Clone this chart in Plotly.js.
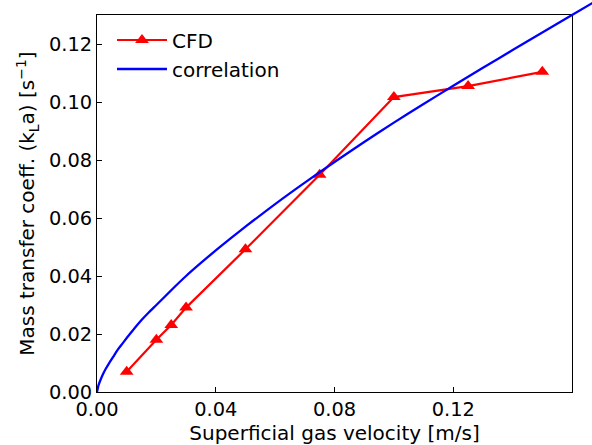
<!DOCTYPE html>
<html>
<head>
<meta charset="utf-8">
<script src="https://cdn.plot.ly/plotly-3.0.1.min.js"></script>
<style>html,body{margin:0;padding:0;background:#fff;}#chart{width:592px;height:445px;}</style>
</head>
<body>
<div id="chart"></div>
<script>
// CFD data
var cfdVelocity = [0.01, 0.02, 0.025, 0.03, 0.05, 0.075, 0.10, 0.125, 0.15];
var cfdKla = [0.0070, 0.0180, 0.0231, 0.0291, 0.0492, 0.0749, 0.1017, 0.1055, 0.1104];

// correlation curve
var corrVelocity = [0, 0.0005, 0.001, 0.002, 0.003, 0.004, 0.0055, 0.007, 0.0085, 0.01, 0.0125, 0.015, 0.0175, 0.02, 0.025, 0.03, 0.035, 0.04, 0.045, 0.05, 0.06, 0.07, 0.08, 0.09, 0.10, 0.11, 0.12, 0.13, 0.14, 0.15, 0.16, 0.17];
var corrKla = [0, 0.0023, 0.0037, 0.0061, 0.0081, 0.0098, 0.0122, 0.0146, 0.0166, 0.0186, 0.0218, 0.0248, 0.0275, 0.0300, 0.0351, 0.0400, 0.0445, 0.0488, 0.0530, 0.0570, 0.0648, 0.0722, 0.0793, 0.0862, 0.0929, 0.0993, 0.1056, 0.1118, 0.1179, 0.1240, 0.1300, 0.1360];

var xTicks = [0, 0.04, 0.08, 0.12, 0.16];
var yTicks = [0, 0.02, 0.04, 0.06, 0.08, 0.10, 0.12];
var xRange = [0, 0.16];
var yRange = [0, 0.13];

// geometry (pixels)
var W = 592, H = 445;
var L = 97, B = 53;
var plotRight = 572, plotTop = 15;
var areaW = W - L, areaH = H - B;
var xFrac = (plotRight - L) / areaW;
var yFrac = (H - B - plotTop) / areaH;

var font = 'DejaVu Sans, sans-serif';

var traces = [
  {
    x: cfdVelocity, y: cfdKla, name: 'CFD', type: 'scatter', mode: 'lines+markers',
    line: {color: '#ff0000', width: 2.2},
    marker: {symbol: 'triangle-up', size: 12, color: '#ff0000'},
    xaxis: 'x', yaxis: 'y'
  },
  {
    x: corrVelocity, y: corrKla, name: 'correlation', type: 'scatter', mode: 'lines',
    line: {color: '#0000ff', width: 2.3, shape: 'spline', smoothing: 0.6},
    xaxis: 'x2', yaxis: 'y2'
  }
];

var layout = {
  width: W, height: H,
  margin: {l: L, r: 0, t: 0, b: B, pad: 0},
  paper_bgcolor: '#ffffff', plot_bgcolor: 'rgba(0,0,0,0)',
  font: {family: font, size: 19.4, color: '#000000'},
  showlegend: true,
  legend: {
    x: 15 / areaW, y: 1 - 20.5 / areaH, xanchor: 'left', yanchor: 'top',
    bgcolor: 'rgba(0,0,0,0)', borderwidth: 0,
    font: {family: font, size: 20, color: '#000'},
    itemwidth: 50
  },
  xaxis: {
    domain: [0, xFrac], range: xRange, tickvals: xTicks, tickformat: '.2f',
    ticks: 'inside', ticklen: 5, tickwidth: 1, tickcolor: '#000',
    showline: true, linecolor: '#000', linewidth: 1, mirror: true,
    showgrid: false, zeroline: false, anchor: 'y',
    tickfont: {family: font, size: 19.4, color: '#000'},
    title: {text: 'Superficial gas velocity [m/s]', font: {family: font, size: 20, color: '#000'}, standoff: 6}
  },
  yaxis: {
    domain: [0, yFrac], range: yRange, tickvals: yTicks, tickformat: '.2f',
    ticks: 'inside', ticklen: 5, tickwidth: 1, tickcolor: '#000',
    showline: true, linecolor: '#000', linewidth: 1, mirror: true,
    showgrid: false, zeroline: false, anchor: 'x',
    tickfont: {family: font, size: 19.4, color: '#000'},
    title: {text: 'Mass transfer coeff. (k<sub>L</sub>a) [s<sup>\u22121</sup>]', font: {family: font, size: 20, color: '#000'}, standoff: 8}
  },
  xaxis2: {
    domain: [0, 1], range: [0, xRange[1] / xFrac], anchor: 'y2',
    visible: false, showgrid: false, zeroline: false
  },
  yaxis2: {
    domain: [0, 1], range: [0, yRange[1] / yFrac], anchor: 'x2',
    visible: false, showgrid: false, zeroline: false
  }
};

Plotly.newPlot('chart', traces, layout, {displayModeBar: false, staticPlot: true});
</script>
</body>
</html>
